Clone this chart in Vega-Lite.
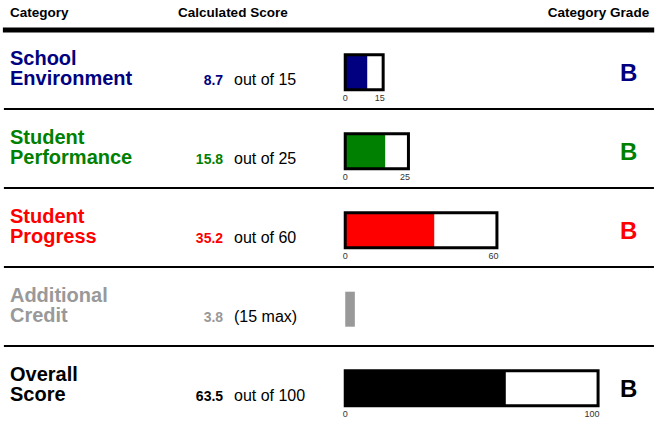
{
  "$schema": "https://vega.github.io/schema/vega-lite/v6.json",
  "width": 657,
  "height": 425,
  "autosize": {"type": "fit", "contains": "padding"},
  "padding": 0,
  "background": "white",
  "config": {"view": {"stroke": null}, "font": "Liberation Sans"},
  "datasets": {
    "scores": [
      {"row": 0, "category": "School Environment", "line1": "School", "line2": "Environment", "score": 8.7, "max": 15, "suffix": "out of 15", "grade": "B"},
      {"row": 1, "category": "Student Performance", "line1": "Student", "line2": "Performance", "score": 15.8, "max": 25, "suffix": "out of 25", "grade": "B"},
      {"row": 2, "category": "Student Progress", "line1": "Student", "line2": "Progress", "score": 35.2, "max": 60, "suffix": "out of 60", "grade": "B"},
      {"row": 3, "category": "Additional Credit", "line1": "Additional", "line2": "Credit", "score": 3.8, "max": null, "suffix": "(15 max)", "grade": ""},
      {"row": 4, "category": "Overall Score", "line1": "Overall", "line2": "Score", "score": 63.5, "max": 100, "suffix": "out of 100", "grade": "B"}
    ],
    "headers": [
      {"label": "Category", "column": "category"},
      {"label": "Calculated Score", "column": "score"},
      {"label": "Category Grade", "column": "grade"}
    ]
  },
  "layer": [
    {
      "data": {"name": "headers"},
      "transform": [{"filter": "datum.column == 'category'"}],
      "mark": {"type": "rule", "strokeWidth": 5, "color": "black"},
      "encoding": {
        "x": {"datum": -135.4, "type": "quantitative", "scale": {"domain": [-135.75, 122.91], "nice": false, "zero": false, "padding": 0}, "axis": null},
        "x2": {"datum": 122.2},
        "y": {"datum": -0.5, "type": "quantitative", "scale": {"domain": [-0.88, 4.5], "reverse": true, "nice": false, "zero": false, "padding": 0}, "axis": null}
      }
    },
    {
      "data": {"name": "headers"},
      "transform": [{"filter": "datum.column == 'category'"}],
      "mark": {"type": "text", "fontSize": 13.5, "fontWeight": "bold", "align": "left", "baseline": "alphabetic", "dy": -13, "color": "black"},
      "encoding": {
        "x": {"datum": -132.6, "type": "quantitative"},
        "y": {"datum": -0.5, "type": "quantitative"},
        "text": {"field": "label"}
      }
    },
    {
      "data": {"name": "headers"},
      "transform": [{"filter": "datum.column == 'score'"}],
      "mark": {"type": "text", "fontSize": 13.5, "fontWeight": "bold", "align": "left", "baseline": "alphabetic", "dy": -13, "color": "black"},
      "encoding": {
        "x": {"datum": -66.1, "type": "quantitative"},
        "y": {"datum": -0.5, "type": "quantitative"},
        "text": {"field": "label"}
      }
    },
    {
      "data": {"name": "headers"},
      "transform": [{"filter": "datum.column == 'grade'"}],
      "mark": {"type": "text", "fontSize": 13.5, "fontWeight": "bold", "align": "right", "baseline": "alphabetic", "dy": -13, "color": "black"},
      "encoding": {
        "x": {"datum": 120.2, "type": "quantitative"},
        "y": {"datum": -0.5, "type": "quantitative"},
        "text": {"field": "label"}
      }
    },
    {
      "data": {"name": "scores"},
      "transform": [{"filter": "datum.row < 4"}],
      "mark": {"type": "rule", "strokeWidth": 2, "color": "black", "yOffset": 39.5},
      "encoding": {
        "x": {"datum": -135.0, "type": "quantitative"},
        "x2": {"datum": 122.1},
        "y": {"field": "row", "type": "quantitative"}
      }
    },
    {
      "data": {"name": "scores"},
      "mark": {"type": "text", "fontSize": 20, "fontWeight": "bold", "align": "left", "baseline": "alphabetic", "dy": -4.5},
      "encoding": {
        "x": {"datum": -132.6, "type": "quantitative"},
        "y": {"field": "row", "type": "quantitative"},
        "text": {"field": "line1"},
        "color": {"field": "category", "type": "nominal", "legend": null, "scale": {"domain": ["School Environment", "Student Performance", "Student Progress", "Additional Credit", "Overall Score"], "range": ["#000080", "#008000", "#ff0000", "#999999", "#000000"]}}
      }
    },
    {
      "data": {"name": "scores"},
      "mark": {"type": "text", "fontSize": 20, "fontWeight": "bold", "align": "left", "baseline": "alphabetic", "dy": 15.5},
      "encoding": {
        "x": {"datum": -132.6, "type": "quantitative"},
        "y": {"field": "row", "type": "quantitative"},
        "text": {"field": "line2"},
        "color": {"field": "category", "type": "nominal", "legend": null}
      }
    },
    {
      "data": {"name": "scores"},
      "mark": {"type": "text", "fontSize": 14, "fontWeight": "bold", "align": "right", "baseline": "alphabetic", "dy": 15.5},
      "encoding": {
        "x": {"datum": -48.3, "type": "quantitative"},
        "y": {"field": "row", "type": "quantitative"},
        "text": {"field": "score", "type": "quantitative", "format": ".1f"},
        "color": {"field": "category", "type": "nominal", "legend": null}
      }
    },
    {
      "data": {"name": "scores"},
      "mark": {"type": "text", "fontSize": 16, "align": "left", "baseline": "alphabetic", "dy": 15.5, "color": "black"},
      "encoding": {
        "x": {"datum": -44.0, "type": "quantitative"},
        "y": {"field": "row", "type": "quantitative"},
        "text": {"field": "suffix"}
      }
    },
    {
      "data": {"name": "scores"},
      "mark": {"type": "bar", "orient": "horizontal", "height": 35, "yOffset": 2.7},
      "encoding": {
        "x": {"field": "score", "type": "quantitative"},
        "x2": {"datum": 0},
        "y": {"field": "row", "type": "quantitative"},
        "color": {"field": "category", "type": "nominal", "legend": null}
      }
    },
    {
      "data": {"name": "scores"},
      "transform": [{"filter": "isValid(datum.max)"}],
      "mark": {"type": "bar", "orient": "horizontal", "height": 35, "yOffset": 2.7, "fill": null, "fillOpacity": 0, "stroke": "black", "strokeWidth": 3},
      "encoding": {
        "x": {"field": "max", "type": "quantitative"},
        "x2": {"datum": 0},
        "y": {"field": "row", "type": "quantitative"}
      }
    },
    {
      "data": {"name": "scores"},
      "transform": [{"filter": "isValid(datum.max)"}],
      "mark": {"type": "text", "fontSize": 9, "align": "center", "baseline": "alphabetic", "dy": 31, "color": "#333333"},
      "encoding": {
        "x": {"datum": 0, "type": "quantitative"},
        "y": {"field": "row", "type": "quantitative"},
        "text": {"datum": 0}
      }
    },
    {
      "data": {"name": "scores"},
      "transform": [{"filter": "isValid(datum.max)"}],
      "mark": {"type": "text", "fontSize": 9, "align": "right", "baseline": "alphabetic", "dy": 31, "dx": 1.5, "color": "#333333"},
      "encoding": {
        "x": {"field": "max", "type": "quantitative"},
        "y": {"field": "row", "type": "quantitative"},
        "text": {"field": "max", "type": "quantitative"}
      }
    },
    {
      "data": {"name": "scores"},
      "mark": {"type": "text", "fontSize": 24, "fontWeight": "bold", "align": "center", "baseline": "alphabetic", "dy": 11.5},
      "encoding": {
        "x": {"datum": 112.1, "type": "quantitative"},
        "y": {"field": "row", "type": "quantitative"},
        "text": {"field": "grade"},
        "color": {"field": "category", "type": "nominal", "legend": null}
      }
    }
  ]
}
